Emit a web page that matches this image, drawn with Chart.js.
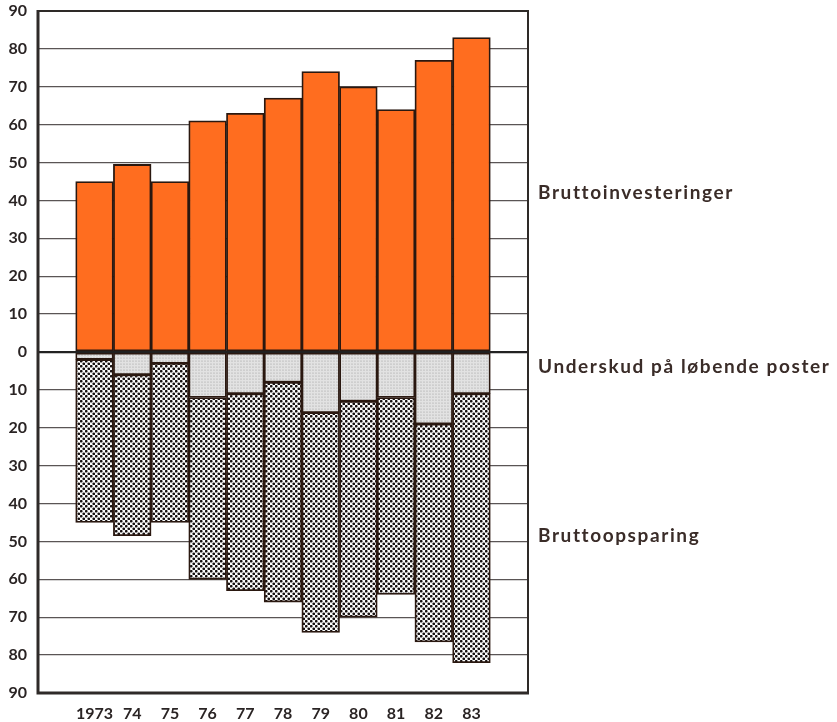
<!DOCTYPE html>
<html><head><meta charset="utf-8">
<script src="https://cdn.jsdelivr.net/npm/chart.js@4/dist/chart.umd.min.js"></script>
<style>html,body{margin:0;padding:0;background:#fff}</style>
</head><body>
<canvas id="c" width="837" height="722"></canvas>
<script>
// ---- data ----
const years = ['1973', '74', '75', '76', '77', '78', '79', '80', '81', '82', '83'];
const bruttoinvesteringer = [45, 49.5, 45, 61, 63, 67, 74, 70, 64, 77, 83];
const underskud = [2, 6, 3, 12, 11, 8, 16, 13, 12, 19, 11];
const bruttoopsparing = [43, 42.5, 42, 48, 52, 58, 58, 57, 52, 57.5, 71];
const seriesNames = ['Bruttoinvesteringer', 'Underskud på løbende poster', 'Bruttoopsparing'];
const yMin = -90, yMax = 90, yStep = 10;

// one empty slot on each side of the bars
const labels = [''].concat(years, ['']);
const pad = arr => [null].concat(arr, [null]);

function makePattern(size, bg, dotColor, dots, r) {
  const c = document.createElement('canvas');
  c.width = size; c.height = size;
  const g = c.getContext('2d');
  g.fillStyle = bg; g.fillRect(0, 0, size, size);
  g.fillStyle = dotColor;
  dots.forEach(([x, y]) => { g.beginPath(); g.arc(x, y, r, 0, Math.PI * 2); g.fill(); });
  return document.getElementById('c').getContext('2d').createPattern(c, 'repeat');
}
const lightPattern = makePattern(3, '#e2e2e2', '#9a9a9a', [[1, 1]], 0.6);
const densePattern = makePattern(5, '#fdfdfd', '#161010', [[1.25, 1.25], [3.75, 3.75]], 1.35);

const edge = '#2a1810';
const tickFont = { family: 'Lato, "Open Sans", sans-serif', size: 16, weight: 'bold' };

const rightLabels = {
  id: 'rightLabels',
  afterDraw(chart) {
    const { ctx, chartArea, scales } = chart;
    const anchors = [42, -4, -48.5];
    ctx.save();
    ctx.font = 'bold 19px Lato, "Open Sans", sans-serif';
    try { ctx.letterSpacing = '1.6px'; } catch (e) {}
    ctx.fillStyle = '#3a2c28';
    ctx.textAlign = 'left';
    ctx.textBaseline = 'middle';
    seriesNames.forEach((t, i) => ctx.fillText(t, chartArea.right + 10, scales.y.getPixelForValue(anchors[i])));
    ctx.restore();
  }
};

const frame = {
  id: 'frame',
  afterDatasetsDraw(chart) {
    const { ctx, chartArea: a } = chart;
    ctx.save();
    ctx.strokeStyle = '#2e2a28';
    ctx.lineWidth = 2;
    ctx.beginPath();
    ctx.moveTo(a.left, a.top); ctx.lineTo(a.right, a.top); ctx.lineTo(a.right, a.bottom);
    ctx.stroke();
    ctx.lineWidth = 3;
    ctx.beginPath();
    ctx.moveTo(a.left, a.top - 1); ctx.lineTo(a.left, a.bottom); ctx.lineTo(a.right + 1, a.bottom);
    ctx.stroke();
    ctx.restore();
  }
};

new Chart(document.getElementById('c'), {
  type: 'bar',
  data: {
    labels: labels,
    datasets: [
      { label: seriesNames[0], data: pad(bruttoinvesteringer), backgroundColor: '#ff6d1f',
        borderColor: edge, borderWidth: 1.8, borderSkipped: false },
      { label: seriesNames[1], data: pad(underskud.map(v => -v)), backgroundColor: lightPattern,
        borderColor: edge, borderWidth: 1.8, borderSkipped: false },
      { label: seriesNames[2], data: pad(bruttoopsparing.map(v => -v)), backgroundColor: densePattern,
        borderColor: edge, borderWidth: 1.8, borderSkipped: false }
    ]
  },
  options: {
    responsive: false,
    devicePixelRatio: 1,
    animation: false,
    events: [],
    layout: { padding: { top: 11, right: 309, left: 0, bottom: 0 } },
    datasets: { bar: { categoryPercentage: 1, barPercentage: 1 } },
    plugins: { legend: { display: false }, tooltip: { enabled: false } },
    scales: {
      x: {
        stacked: true,
        offset: true,
        grid: { display: false, drawTicks: false },
        border: { display: false },
        ticks: { color: '#2a2424', padding: 11, maxRotation: 0, autoSkip: false, font: tickFont },
        afterFit(s) { s.height = 29; s.paddingLeft = 0; s.paddingRight = 0; }
      },
      y: {
        stacked: true,
        min: yMin, max: yMax,
        grid: { drawTicks: false, lineWidth: c => c.tick.value === 0 ? 2.2 : 1.3,
          color: c => c.tick.value === 0 ? '#222' : '#5a5555' },
        border: { display: false },
        ticks: { stepSize: yStep, padding: 11, color: '#2a2424', font: tickFont,
          callback: v => String(Math.abs(v)) },
        afterFit(s) { s.width = 38; s.paddingTop = 0; s.paddingBottom = 0; }
      }
    }
  },
  plugins: [frame, rightLabels]
});
</script>
</body></html>
